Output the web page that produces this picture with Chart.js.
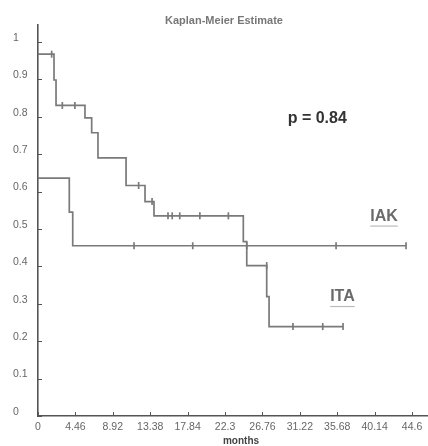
<!DOCTYPE html>
<html><head><meta charset="utf-8">
<script src="https://cdn.jsdelivr.net/npm/chart.js@4"></script>
<style>html,body{margin:0;padding:0;background:#fff;overflow:hidden;}canvas{display:block;}</style>
</head><body><canvas id="c" width="428" height="446" style="width:428px;height:446px;"></canvas>
<script>
// ---- data ----
const itaTimes    = [0, 1.91, 2.15, 5.6, 6.4, 7.15, 10.5, 12.76, 13.83, 24.48, 24.89, 27.27, 27.55, 36.37];
const itaSurvival = [0.967, 0.898, 0.83, 0.797, 0.757, 0.69, 0.616, 0.573, 0.535, 0.466, 0.402, 0.319, 0.239, 0.239];
const itaCensorTimes    = [1.63, 2.9, 4.4, 12.0, 13.6, 15.5, 16.0, 16.9, 19.3, 22.7, 27.27, 30.4, 33.95, 36.37];
const itaCensorSurvival = [0.967, 0.83, 0.83, 0.616, 0.573, 0.535, 0.535, 0.535, 0.535, 0.535, 0.402, 0.239, 0.239, 0.239];
const iakTimes    = [0, 3.73, 4.14, 43.88];
const iakSurvival = [0.636, 0.545, 0.455, 0.455];
const iakCensorTimes    = [11.45, 18.45, 24.89, 35.54, 43.88];
const iakCensorSurvival = [0.455, 0.455, 0.455, 0.455, 0.455];
const xTickValues = [0, 4.46, 8.92, 13.38, 17.84, 22.3, 26.76, 31.22, 35.68, 40.14, 44.6];
const xTickLabels = ['0', '4.46', '8.92', '13.38', '17.84', '22.3', '26.76', '31.22', '35.68', '40.14', '44.6'];
const yTickValues = [0, 0.1, 0.2, 0.3, 0.4, 0.5, 0.6, 0.7, 0.8, 0.9, 1];
const yTickLabels = ['0', '0.1', '0.2', '0.3', '0.4', '0.5', '0.6', '0.7', '0.8', '0.9', '1'];
const titleText = 'Kaplan-Meier Estimate';
const xAxisTitle = 'months';
const pValueText = 'p = 0.84';
const seriesNames = ['IAK', 'ITA'];

const pts = (xs, ys) => xs.map((x, i) => ({x: x, y: ys[i]}));
const LINE = '#7a7a7a';
const AXIS = '#555';
const FONT = '"Liberation Sans", Arial, sans-serif';

const annot = {
  id: 'annot',
  afterDraw(chart) {
    const ctx = chart.ctx, xs = chart.scales.x, ys = chart.scales.y;
    const left = chart.chartArea.left, bottom = chart.chartArea.bottom;
    ctx.save();
    // inside tick marks
    ctx.strokeStyle = AXIS; ctx.lineWidth = 1;
    yTickValues.forEach(v => {
      const py = Math.round(ys.getPixelForValue(v)) + 0.5;
      ctx.beginPath(); ctx.moveTo(left, py); ctx.lineTo(left + 4, py); ctx.stroke();
    });
    xTickValues.forEach(v => {
      const px = Math.round(xs.getPixelForValue(v)) + 0.5;
      ctx.beginPath(); ctx.moveTo(px, bottom); ctx.lineTo(px, bottom - 4); ctx.stroke();
    });
    // tick labels
    ctx.fillStyle = '#666'; ctx.font = '10.5px ' + FONT;
    ctx.textAlign = 'left'; ctx.textBaseline = 'middle';
    yTickValues.forEach((v, i) => {
      ctx.fillText(yTickLabels[i], left - 25, ys.getPixelForValue(v) - 4);
    });
    ctx.textAlign = 'center';
    xTickValues.forEach((v, i) => {
      ctx.fillText(xTickLabels[i], xs.getPixelForValue(v), bottom + 11);
    });
    // title
    ctx.fillStyle = '#777'; ctx.font = 'bold 11px ' + FONT;
    ctx.fillText(titleText, 224, 21);
    // x axis title
    ctx.fillStyle = '#444'; ctx.font = 'bold 10px ' + FONT;
    ctx.fillText(xAxisTitle, 241, 441);
    // p value
    ctx.fillStyle = '#333'; ctx.font = 'bold 16px ' + FONT;
    ctx.fillText(pValueText, xs.getPixelForValue(33.3), ys.getPixelForValue(0.794));
    // series labels
    ctx.fillStyle = '#6a6a6a'; ctx.font = 'bold 16px ' + FONT;
    const lab = (t, x, y) => {
      const px = xs.getPixelForValue(x), py = ys.getPixelForValue(y);
      ctx.fillText(t, px, py);
      const w = ctx.measureText(t).width;
      ctx.strokeStyle = '#bbb'; ctx.lineWidth = 1.2;
      ctx.beginPath(); ctx.moveTo(px - w / 2, py + 9.5); ctx.lineTo(px + w / 2, py + 9.5); ctx.stroke();
    };
    lab(seriesNames[0], 41.26, 0.533);
    lab(seriesNames[1], 36.3, 0.318);
    ctx.restore();
  }
};

new Chart(document.getElementById('c'), {
  type: 'line',
  data: {
    datasets: [
      {label: 'ITA', data: pts(itaTimes, itaSurvival), stepped: true, borderColor: LINE, borderWidth: 1.7, pointRadius: 0, fill: false},
      {label: 'ITA censored', data: pts(itaCensorTimes, itaCensorSurvival), showLine: false, pointStyle: 'line', rotation: 90, pointRadius: 3.5, borderColor: LINE, pointBorderWidth: 1.7},
      {label: 'IAK', data: pts(iakTimes, iakSurvival), stepped: true, borderColor: LINE, borderWidth: 1.7, pointRadius: 0, fill: false},
      {label: 'IAK censored', data: pts(iakCensorTimes, iakCensorSurvival), showLine: false, pointStyle: 'line', rotation: 90, pointRadius: 3.5, borderColor: LINE, pointBorderWidth: 1.7}
    ]
  },
  options: {
    responsive: false, animation: false, devicePixelRatio: 1,
    layout: {padding: {top: 25, left: 38, right: 0, bottom: 30}, autoPadding: false},
    plugins: {legend: {display: false}, tooltip: {enabled: false}, title: {display: false}},
    scales: {
      x: {
        type: 'linear', min: 0, max: 46.5,
        afterBuildTicks: s => { s.ticks = xTickValues.map(v => ({value: v})); },
        afterFit: s => { s.height = 0; s.paddingLeft = 0; s.paddingRight = 0; },
        ticks: {display: false},
        grid: {display: false, drawTicks: false},
        border: {display: true, color: AXIS, width: 1.6}
      },
      y: {
        type: 'linear', min: 0, max: 1.045,
        afterBuildTicks: s => { s.ticks = yTickValues.map(v => ({value: v})); },
        afterFit: s => { s.width = 0; s.paddingTop = 0; s.paddingBottom = 0; },
        ticks: {display: false},
        grid: {display: false, drawTicks: false},
        border: {display: true, color: AXIS, width: 1.6}
      }
    }
  },
  plugins: [annot]
});
</script></body></html>
